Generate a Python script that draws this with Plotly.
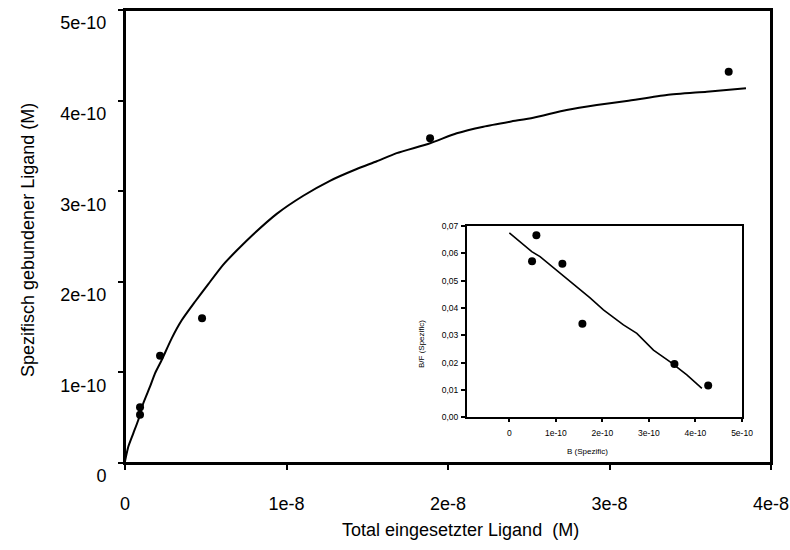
import plotly.graph_objects as go

# ---- main chart data ----
total_ligand = [9.3e-10, 9.3e-10, 2.17e-9, 4.77e-9, 1.889e-8, 3.738e-8]
bound_specific = [0.615e-10, 0.533e-10, 1.184e-10, 1.597e-10, 3.584e-10, 4.319e-10]

fit_x = [0, 0.204e-9, 0.514e-9, 0.824e-9, 1.133e-9, 1.548e-9, 1.858e-9, 2.272e-9, 2.892e-9,
         3.511e-9, 4.334e-9, 5.158e-9, 6.087e-9, 6.916e-9, 7.74e-9, 9.393e-9, 1.104e-8,
         1.269e-8, 1.435e-8, 1.559e-8, 1.682e-8, 1.889e-8, 2.054e-8, 2.219e-8, 2.384e-8,
         2.528e-8, 2.735e-8, 2.921e-8, 3.106e-8, 3.354e-8, 3.602e-8, 3.845e-8]
fit_y = [0.02e-10, 0.18e-10, 0.328e-10, 0.475e-10, 0.659e-10, 0.842e-10, 0.99e-10, 1.137e-10,
         1.376e-10, 1.575e-10, 1.78e-10, 1.975e-10, 2.19e-10, 2.345e-10, 2.49e-10, 2.75e-10,
         2.95e-10, 3.115e-10, 3.245e-10, 3.33e-10, 3.42e-10, 3.529e-10, 3.639e-10, 3.712e-10,
         3.767e-10, 3.811e-10, 3.896e-10, 3.951e-10, 3.995e-10, 4.062e-10, 4.098e-10, 4.136e-10]

main_x_ticks = [0, 1e-8, 2e-8, 3e-8, 4e-8]
main_x_labels = ["0", "1e-8", "2e-8", "3e-8", "4e-8"]
main_y_ticks = [0, 1e-10, 2e-10, 3e-10, 4e-10, 5e-10]
main_y_labels = ["0", "1e-10", "2e-10", "3e-10", "4e-10", "5e-10"]

# ---- inset (Scatchard) data ----
scat_b = [0.581e-10, 0.488e-10, 1.14e-10, 1.57e-10, 3.548e-10, 4.273e-10]
scat_bf = [0.0666, 0.0571, 0.0562, 0.0342, 0.0195, 0.0116]

scat_fit_b = [0, 0.23e-10, 0.482e-10, 0.66e-10, 0.817e-10, 1.019e-10, 1.234e-10, 1.484e-10,
              1.735e-10, 2.022e-10, 2.452e-10, 2.74e-10, 3.097e-10, 3.456e-10, 3.815e-10, 4.138e-10]
scat_fit_bf = [0.0675, 0.0643, 0.0606, 0.0588, 0.0566, 0.0539, 0.0509, 0.0472,
               0.0437, 0.0393, 0.0338, 0.0307, 0.0246, 0.0203, 0.0155, 0.0106]

inset_x_ticks = [0, 1e-10, 2e-10, 3e-10, 4e-10, 5e-10]
inset_x_labels = ["0", "1e-10", "2e-10", "3e-10", "4e-10", "5e-10"]
inset_y_ticks = [0, 0.01, 0.02, 0.03, 0.04, 0.05, 0.06, 0.07]
inset_y_labels = ["0,00", "0,01", "0,02", "0,03", "0,04", "0,05", "0,06", "0,07"]

FONT = "Arial, Liberation Sans, sans-serif"

fig = go.Figure()
fig.add_trace(go.Scatter(x=fit_x, y=fit_y, mode="lines",
                         line=dict(color="black", width=2, shape="spline", smoothing=0.6),
                         xaxis="x", yaxis="y", showlegend=False, hoverinfo="skip"))
fig.add_trace(go.Scatter(x=total_ligand, y=bound_specific, mode="markers",
                         marker=dict(color="black", size=8), xaxis="x", yaxis="y",
                         showlegend=False))
fig.add_trace(go.Scatter(x=scat_fit_b, y=scat_fit_bf, mode="lines",
                         line=dict(color="black", width=1.6), xaxis="x2", yaxis="y2",
                         showlegend=False, hoverinfo="skip"))
fig.add_trace(go.Scatter(x=scat_b, y=scat_bf, mode="markers",
                         marker=dict(color="black", size=8), xaxis="x2", yaxis="y2",
                         showlegend=False))

W, H = 790, 550
L, R, T, B = 125, 771, 10, 463
def px(x):
    return (x - L) / (R - L)
def py(y):
    return (B - y) / (B - T)

common = dict(showgrid=False, zeroline=False, showline=True, mirror=True,
              linecolor="black", tickcolor="black", automargin=False)

fig.update_layout(
    template="none",
    width=W, height=H,
    margin=dict(l=L, r=W - R, t=T, b=H - B, pad=0),
    paper_bgcolor="white", plot_bgcolor="white",
    font=dict(family=FONT, color="black"),
    xaxis=dict(range=[0, 4e-8], tickvals=main_x_ticks, ticktext=main_x_labels,
               linewidth=2, ticks="outside", ticklen=5, tickwidth=2,
               tickfont=dict(size=18, color="black"), ticklabelstandoff=18, domain=[0, 1],
               anchor="y", **common),
    yaxis=dict(range=[0, 5e-10], tickvals=main_y_ticks, ticktext=main_y_labels,
               linewidth=2, ticks="outside", ticklen=5, tickwidth=2,
               tickfont=dict(size=18, color="black"), ticklabelstandoff=8,
               ticklabelshift=13, domain=[0, 1], anchor="x", **common),
    xaxis2=dict(range=[-0.91e-10, 5.0e-10], tickvals=inset_x_ticks, ticktext=inset_x_labels,
                domain=[px(467), px(742)], anchor="y2",
                linewidth=2, ticks="outside", ticklen=3, tickwidth=1.5,
                tickfont=dict(size=8.5, color="black"), ticklabelstandoff=3, **common),
    yaxis2=dict(range=[0, 0.07], tickvals=inset_y_ticks, ticktext=inset_y_labels,
                domain=[py(417.3), py(226)], anchor="x2",
                linewidth=2, ticks="outside", ticklen=4, tickwidth=1.5,
                tickfont=dict(size=8.5, color="black"), ticklabelstandoff=1, **common),
    shapes=[dict(type="rect", xref="paper", yref="paper", x0=0, x1=1, y0=0, y1=1,
                 line=dict(color="black", width=2), fillcolor="rgba(0,0,0,0)", layer="above")],
    annotations=[
        dict(text="Total eingesetzter Ligand  (M)", xref="paper", yref="paper",
             x=px(460), y=py(530), xanchor="center", yanchor="middle",
             showarrow=False, font=dict(size=18, color="black")),
        dict(text="Spezifisch gebundener Ligand (M)", xref="paper", yref="paper",
             x=px(28), y=py(240), xanchor="center", yanchor="middle", textangle=-90,
             showarrow=False, font=dict(size=18, color="black")),
        dict(text="B (Spezific)", xref="paper", yref="paper",
             x=px(587), y=py(451), xanchor="center", yanchor="middle",
             showarrow=False, font=dict(size=8, color="black")),
        dict(text="B/F (Spezific)", xref="paper", yref="paper",
             x=px(421), y=py(344), xanchor="center", yanchor="middle", textangle=-90,
             showarrow=False, font=dict(size=8, color="black")),
    ],
)

fig.write_html("out.html")
